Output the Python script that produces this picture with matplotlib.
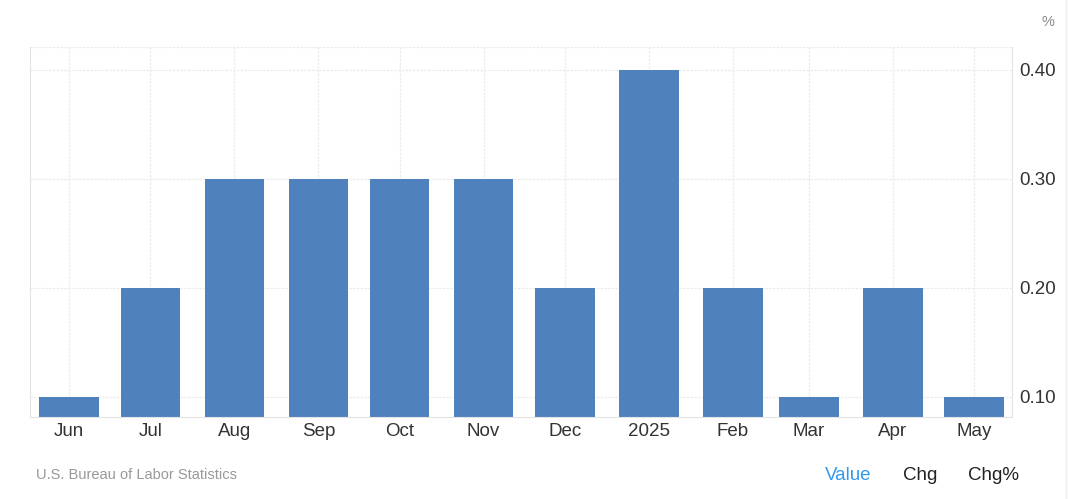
import datetime as dt
import matplotlib.pyplot as plt
import matplotlib.dates as mdates

plt.rcParams['font.family'] = ['Liberation Sans', 'DejaVu Sans']

# Monthly values, Jun 2024 - May 2025
months = ['2024-06', '2024-07', '2024-08', '2024-09', '2024-10', '2024-11',
          '2024-12', '2025-01', '2025-02', '2025-03', '2025-04', '2025-05']
values = [0.1, 0.2, 0.3, 0.3, 0.3, 0.3, 0.2, 0.4, 0.2, 0.1, 0.2, 0.1]
tick_labels = ['Jun', 'Jul', 'Aug', 'Sep', 'Oct', 'Nov', 'Dec', '2025',
               'Feb', 'Mar', 'Apr', 'May']
y_ticks = [0.1, 0.2, 0.3, 0.4]

dates = [dt.datetime.strptime(m, '%Y-%m') for m in months]

W, H = 1075, 499
fig = plt.figure(figsize=(W / 100, H / 100), dpi=100)
ax = fig.add_axes([30 / W, (H - 417) / H, (1012 - 30) / W, (417 - 47) / H])

ax.bar(dates, values, width=22, color='#4f81bd', zorder=2)

ax.set_xlim(dates[0] - dt.timedelta(days=14.4), dates[-1] + dt.timedelta(days=14))
ax.set_ylim(0.0814, 0.4211)

ax.set_xticks(dates)
ax.set_xticklabels(tick_labels)
ax.set_yticks(y_ticks)
ax.set_yticklabels([f'{v:.2f}' for v in y_ticks])
ax.yaxis.tick_right()
ax.tick_params(axis='both', length=0, labelsize=13.5, colors='#333333')
ax.tick_params(axis='x', pad=4)
ax.tick_params(axis='y', pad=5)

ax.grid(True, color='#ebebeb', linestyle=(0, (2, 1)), linewidth=0.9, zorder=0)
for side in ['left', 'bottom', 'right']:
    ax.spines[side].set_color('#e3e3e3')
ax.spines['top'].set_visible(False)
ax.axhline(0.4211, color='#ebebeb', linestyle=(0, (2, 1)), linewidth=0.9, zorder=0)

fig.text(1042 / W, 1 - 22 / H, '%', fontsize=10.5, color='#888888', ha='left', va='center')
fig.text(36 / W, 1 - 475 / H, 'U.S. Bureau of Labor Statistics', fontsize=10.5,
         color='#999999', ha='left', va='center')
fig.text(825 / W, 1 - 475 / H, 'Value', fontsize=13.5, color='#3399ee', ha='left', va='center')
fig.text(903 / W, 1 - 475 / H, 'Chg', fontsize=13.5, color='#222222', ha='left', va='center')
fig.text(968 / W, 1 - 475 / H, 'Chg%', fontsize=13.5, color='#222222', ha='left', va='center')
fig.add_artist(plt.Line2D([1066 / W, 1066 / W], [0, 1], color='#eeeeee', linewidth=1))

fig.savefig('out.png', dpi=100)
